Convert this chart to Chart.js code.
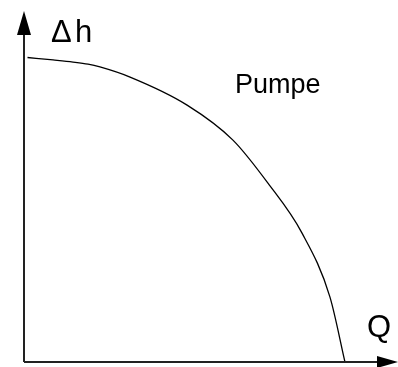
<!DOCTYPE html>
<html>
<head>
<meta charset="utf-8">
<script src="https://cdn.jsdelivr.net/npm/chart.js@4"></script>
<style>
  html, body { margin: 0; padding: 0; background: #fff; }
  canvas { display: block; }
</style>
</head>
<body>
<canvas id="pump-chart" width="398" height="367"></canvas>
<script>
// pump curve: head over flow (arbitrary units 0..100)
const flowQ = [1, 8.3, 14, 18.3, 21.7, 30.3, 46.6, 59.7, 69.7, 79.4, 87.4, 91.7];
const headH = [87, 86.3, 85.7, 85.1, 84.3, 81.4, 73.4, 63.4, 51.1, 36.9, 18.6, 0];
const axisLabels = ["\u0394h", "Q"];
const curveLabel = "Pumpe";

// axes with arrow heads + labels
const axesPlugin = {
  id: 'axesArrows',
  afterDatasetsDraw(chart) {
    const c = chart.ctx;
    const xs = chart.scales.x, ys = chart.scales.y;
    const x0 = xs.getPixelForValue(0), y0 = ys.getPixelForValue(0);
    c.save();
    c.strokeStyle = '#222';
    c.fillStyle = '#000';
    c.lineWidth = 2;
    c.beginPath();
    c.moveTo(x0, y0);
    c.lineTo(x0, 30);
    c.moveTo(x0, y0);
    c.lineTo(382, y0);
    c.stroke();
    // y arrow
    c.beginPath();
    c.moveTo(x0, 11);
    c.lineTo(x0 - 7, 35);
    c.lineTo(x0 + 7, 35);
    c.closePath();
    c.fill();
    // x arrow
    c.beginPath();
    c.moveTo(398, y0);
    c.lineTo(377, y0 - 6);
    c.lineTo(377, y0 + 6);
    c.closePath();
    c.fill();

    c.textBaseline = 'alphabetic';
    c.font = '31px "Liberation Sans", Arial, sans-serif';
    c.fillText(axisLabels[0].charAt(0), 51, 42);
    c.fillText(axisLabels[0].charAt(1), 75, 42);
    c.fillText(axisLabels[1], 367, 337);
    c.font = '27px "Liberation Sans", Arial, sans-serif';
    c.fillText(curveLabel, 235, 93);
    c.restore();
  }
};

const ctx = document.getElementById('pump-chart').getContext('2d');

const chart = new Chart(ctx, {
  type: 'line',
  data: {
    datasets: [{
      label: curveLabel,
      data: flowQ.map((q, i) => ({ x: q, y: headH[i] })),
      borderColor: '#000',
      borderWidth: 1.3,
      pointRadius: 0,
      cubicInterpolationMode: 'monotone',
      fill: false
    }]
  },
  options: {
    responsive: false,
    animation: false,
    layout: { padding: { left: 24, right: 24, top: 12, bottom: 5 } },
    plugins: {
      legend: { display: false },
      tooltip: { enabled: false }
    },
    scales: {
      x: { type: 'linear', min: 0, max: 100, display: false },
      y: { type: 'linear', min: 0, max: 100, display: false }
    }
  },
  plugins: [axesPlugin]
});
</script>
</body>
</html>
